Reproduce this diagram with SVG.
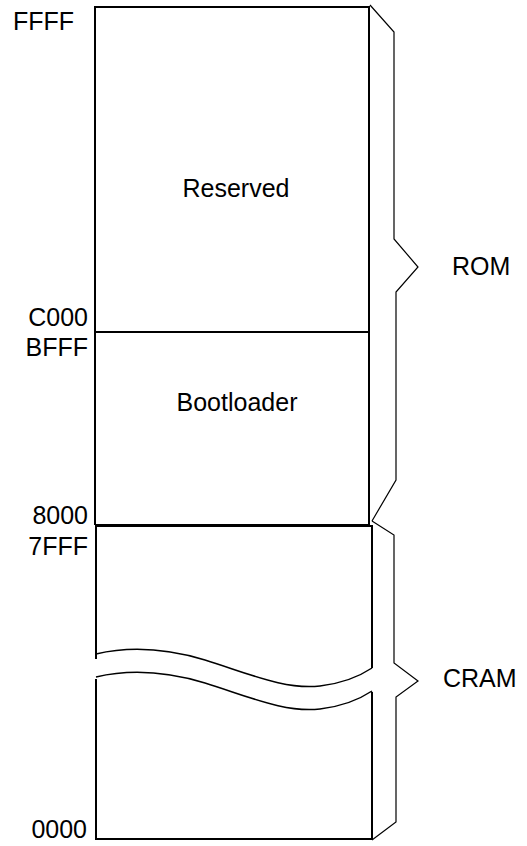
<svg xmlns="http://www.w3.org/2000/svg" width="527" height="846" viewBox="0 0 527 846">
<style>
.box{fill:none;stroke:#000;stroke-width:2}
.br{fill:none;stroke:#000;stroke-width:1.2;stroke-linejoin:miter}
.wave{fill:none;stroke:#000;stroke-width:1.5}
text{font-family:"Liberation Sans",Arial,sans-serif;font-size:25px;fill:#000}
.r{text-anchor:end}
.m{text-anchor:middle}
</style>
<rect width="527" height="846" fill="#fff"/>
<g id="rom-reserved">
<path class="box" d="M95,525 V7 H369 V332"/>
<text x="236" y="197" class="m">Reserved</text>
</g>
<g id="rom-bootloader">
<path class="box" d="M95,332 H369 V525 H95"/>
<text x="237" y="411" class="m">Bootloader</text>
</g>
<g id="cram">
<path class="box" d="M96,659 V526 H372 V668"/>
<path class="box" d="M96,679 V839 H372 V692"/>
<path class="wave" d="M96,654 C130,646 165,648 205,660 C250,674 285,690 320,686 C345,683 360,676 372,668"/>
<path class="wave" d="M96,677 C130,669 165,671 205,683 C250,697 285,713 320,709 C345,706 360,699 372,691"/>
</g>
<g id="labels">
<text x="13" y="30">FFFF</text>
<text x="88" y="326" class="r">C000</text>
<text x="88" y="356" class="r">BFFF</text>
<text x="88" y="524" class="r">8000</text>
<text x="88" y="555" class="r">7FFF</text>
<text x="87" y="838" class="r">0000</text>
<text x="452" y="275">ROM</text>
<text x="443" y="687">CRAM</text>
</g>
<g id="connectors">
<path class="br" d="M370,5 L394,32 V239 L418,267 L396,292 V480 L372,521"/>
<path class="br" d="M372,521 L394,535 V663 L418,681 L396,697 V822 L372,840"/>
</g>
</svg>
